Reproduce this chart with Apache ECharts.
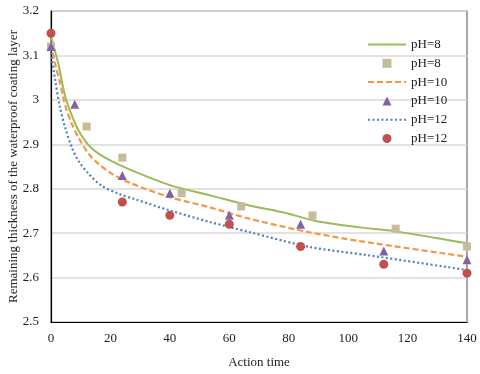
<!DOCTYPE html>
<html>
<head>
<meta charset="utf-8">
<script src="https://cdn.jsdelivr.net/npm/echarts@6/dist/echarts.min.js"></script>
<style>
  html, body { margin: 0; padding: 0; background: #fff; }
  #chart { width: 480px; height: 374px; }
</style>
</head>
<body>
<div id="chart"></div>
<script>
// measured points (action time, thickness)
const ph8Points = [[0, 3.12], [12, 2.94], [24, 2.87], [44, 2.79], [64, 2.76], [88, 2.74], [116, 2.71], [140, 2.67]];
const ph10Points = [[0, 3.12], [8, 2.99], [24, 2.83], [40, 2.79], [60, 2.74], [84, 2.72], [112, 2.66], [140, 2.64]];
const ph12Points = [[0, 3.15], [24, 2.77], [40, 2.74], [60, 2.72], [84, 2.67], [112, 2.63], [140, 2.61]];

// fitted curves
const ph8Curve = [[0, 3.142], [2.5, 3.08], [4.7, 3.01], [7, 2.965], [9.2, 2.932], [12.6, 2.898], [16, 2.879], [20.4, 2.862],
  [26.6, 2.843], [40, 2.808], [53.5, 2.785], [66.4, 2.763], [78, 2.747], [89.4, 2.727], [104, 2.713], [116, 2.704], [140, 2.677]];
const ph10Curve = [[0, 3.126], [1.4, 3.08], [3, 3.04], [4.1, 3.006], [5.3, 2.976], [7, 2.946], [9.2, 2.916], [12.6, 2.879],
  [16, 2.856], [20.4, 2.834], [27, 2.812], [40, 2.781], [53.5, 2.758], [67, 2.732], [87, 2.702], [104, 2.682], [140, 2.647]];
const ph12Curve = [[0, 3.107], [1.4, 3.044], [3, 2.984], [4.7, 2.939], [7, 2.893], [9.2, 2.863], [12.6, 2.834], [17, 2.807],
  [22.7, 2.789], [28, 2.777], [40, 2.751], [53.5, 2.725], [67, 2.702], [87, 2.669], [107, 2.65], [140, 2.617]];

const xTicks = { min: 0, max: 140, interval: 20 };
const yTicks = { min: 2.5, max: 3.2, interval: 0.1 };

const serif = '"Liberation Serif", "Times New Roman", serif';
const chart = echarts.init(document.getElementById('chart'), null, { renderer: 'canvas' });

function lineSeries(name, data, color, type) {
  return {
    name: name, type: 'line', data: data, smooth: 0.3, symbol: 'none', z: 2,
    lineStyle: { color: color, width: type === 'solid' ? 2 : 2.2, type: type },
    itemStyle: { color: color }
  };
}
function pointSeries(name, data, color, symbol, size) {
  return {
    name: name, type: 'scatter', data: data, symbol: symbol, symbolSize: size, z: 5,
    itemStyle: { color: color, opacity: 1 }
  };
}

const squareIcon = 'path://M0,0h10v10h-10z';
const triangleIcon = 'path://M5,0L10,10L0,10Z';

chart.setOption({
  animation: false,
  backgroundColor: '#fff',
  grid: { left: 51, right: 13, top: 11, bottom: 52, outerBoundsMode: 'none', show: true, borderColor: '#6e6e6e', borderWidth: 1.2 },
  legend: {
    orient: 'vertical', left: 362, top: 33, itemWidth: 38, itemHeight: 9, itemGap: 5.8, symbolKeepAspect: true,
    textStyle: { fontFamily: serif, fontSize: 13, color: '#222' },
    formatter: n => n.replace('\u200b', ''),
    data: [
      { name: 'pH=8', itemStyle: { opacity: 0 } },
      { name: 'pH=8\u200b', icon: squareIcon },
      { name: 'pH=10', itemStyle: { opacity: 0 } },
      { name: 'pH=10\u200b', icon: triangleIcon },
      { name: 'pH=12', itemStyle: { opacity: 0 } },
      { name: 'pH=12\u200b', icon: 'circle' }
    ]
  },
  xAxis: {
    type: 'value', min: xTicks.min, max: xTicks.max, interval: xTicks.interval,
    name: 'Action time', nameLocation: 'middle', nameGap: 34, nameMoveOverlap: false,
    nameTextStyle: { fontFamily: serif, fontSize: 13, color: '#222' },
    axisLine: { lineStyle: { color: '#000', width: 1.2 } },
    axisTick: { show: false },
    axisLabel: { fontFamily: serif, fontSize: 13, color: '#222', margin: 10 },
    splitLine: { show: false }
  },
  yAxis: {
    type: 'value', min: yTicks.min, max: yTicks.max, interval: yTicks.interval,
    name: 'Remaining thickness of the waterproof coating layer', nameLocation: 'middle', nameGap: 31, nameMoveOverlap: false,
    nameTextStyle: { fontFamily: serif, fontSize: 13, color: '#222' },
    axisLine: { show: true, lineStyle: { color: '#000', width: 1.2 } },
    axisTick: { show: false },
    axisLabel: { fontFamily: serif, fontSize: 13, color: '#222', margin: 12 },
    splitLine: { lineStyle: { color: '#d9d9d9', width: 1.5 } }
  },
  series: [
    lineSeries('pH=8', ph8Curve, '#9bbb59', 'solid'),
    pointSeries('pH=8\u200b', ph8Points, '#c4bd97', 'rect', 8),
    lineSeries('pH=10', ph10Curve, '#f79646', [6, 3]),
    pointSeries('pH=10\u200b', ph10Points, '#8064a2', 'triangle', 9),
    lineSeries('pH=12', ph12Curve, '#4f81bd', [2, 2.5]),
    pointSeries('pH=12\u200b', ph12Points, '#c0504d', 'circle', 9)
  ]
});
</script>
</body>
</html>
